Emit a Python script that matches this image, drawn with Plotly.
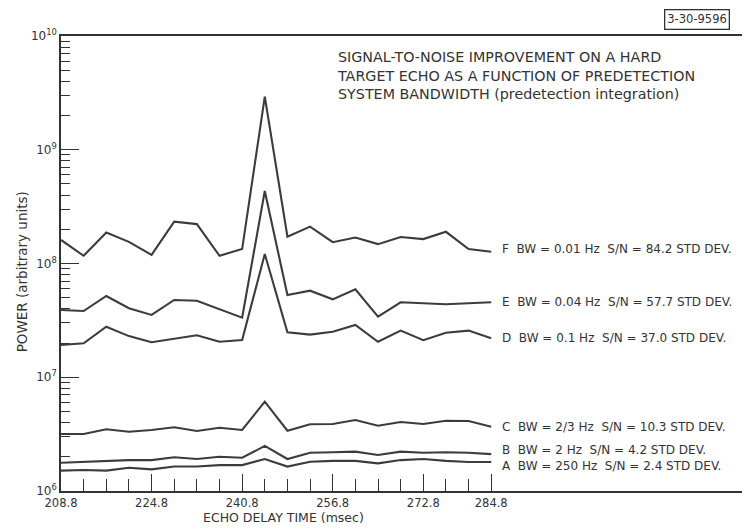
import math
import plotly.graph_objects as go

# ---- data ----
delay_ms = [208.8, 212.8, 216.8, 220.8, 224.8, 228.8, 232.8, 236.8, 240.8, 244.8,
            248.8, 252.8, 256.8, 260.8, 264.8, 268.8, 272.8, 276.8, 280.8, 284.8]

power_F = [1.61e8, 1.17e8, 1.87e8, 1.55e8, 1.19e8, 2.33e8, 2.22e8, 1.17e8, 1.34e8, 2.93e9,
           1.72e8, 2.11e8, 1.54e8, 1.69e8, 1.48e8, 1.71e8, 1.64e8, 1.90e8, 1.34e8, 1.27e8]
power_E = [3.90e7, 3.82e7, 5.18e7, 4.04e7, 3.53e7, 4.78e7, 4.71e7, 3.98e7, 3.34e7, 4.34e8,
           5.28e7, 5.77e7, 4.84e7, 5.93e7, 3.41e7, 4.56e7, 4.47e7, 4.38e7, 4.47e7, 4.56e7]
power_D = [1.92e7, 1.99e7, 2.78e7, 2.30e7, 2.03e7, 2.17e7, 2.34e7, 2.05e7, 2.12e7, 1.21e8,
           2.48e7, 2.37e7, 2.51e7, 2.88e7, 2.05e7, 2.57e7, 2.12e7, 2.46e7, 2.57e7, 2.20e7]
power_C = [3.17e6, 3.17e6, 3.49e6, 3.32e6, 3.44e6, 3.63e6, 3.37e6, 3.60e6, 3.44e6, 6.10e6,
           3.39e6, 3.86e6, 3.88e6, 4.21e6, 3.75e6, 4.04e6, 3.88e6, 4.15e6, 4.12e6, 3.67e6]
power_B = [1.77e6, 1.81e6, 1.84e6, 1.87e6, 1.87e6, 1.98e6, 1.91e6, 2.00e6, 1.96e6, 2.49e6,
           1.91e6, 2.17e6, 2.19e6, 2.22e6, 2.07e6, 2.22e6, 2.17e6, 2.19e6, 2.17e6, 2.11e6]
power_A = [1.51e6, 1.53e6, 1.51e6, 1.60e6, 1.55e6, 1.64e6, 1.64e6, 1.69e6, 1.69e6, 1.91e6,
           1.64e6, 1.81e6, 1.84e6, 1.84e6, 1.75e6, 1.87e6, 1.91e6, 1.84e6, 1.80e6, 1.80e6]

series_names = ["F", "E", "D", "C", "B", "A"]
series_values = [power_F, power_E, power_D, power_C, power_B, power_A]
series_labels = [
    "F  BW = 0.01 Hz  S/N = 84.2 STD DEV.",
    "E  BW = 0.04 Hz  S/N = 57.7 STD DEV.",
    "D  BW = 0.1 Hz  S/N = 37.0 STD DEV.",
    "C  BW = 2/3 Hz  S/N = 10.3 STD DEV.",
    "B  BW = 2 Hz  S/N = 4.2 STD DEV.",
    "A  BW = 250 Hz  S/N = 2.4 STD DEV.",
]
label_shift = [3, 0, 0, 0, 4, -4]

x_tick_vals = [208.8, 224.8, 240.8, 256.8, 272.8, 284.8]
x_tick_text = ["208.8", "224.8", "240.8", "256.8", "272.8", "284.8"]
x_minor_vals = [v for v in delay_ms if v not in x_tick_vals]

y_tick_vals = [1e6, 1e7, 1e8, 1e9, 1e10]
y_tick_text = ["10<sup>6</sup>", "10<sup>7</sup>", "10<sup>8</sup>", "10<sup>9</sup>", "10<sup>10</sup>"]
y_minor_vals = [k * 10 ** d for d in range(6, 10) for k in range(2, 10)]

title_text = ("SIGNAL-TO-NOISE IMPROVEMENT ON A HARD<br>"
              "TARGET ECHO AS A FUNCTION OF PREDETECTION<br>"
              "SYSTEM BANDWIDTH (predetection integration)")

INK = "#333333"
FONT = "DejaVu Sans, Liberation Sans, Arial, sans-serif"

fig = go.Figure()
for name, vals in zip(series_names, series_values):
    fig.add_trace(go.Scatter(x=delay_ms, y=vals, mode="lines", name=name,
                             line=dict(color="#3c3c3c", width=2.1)))

annotations = []
for vals, lab, sh in zip(series_values, series_labels, label_shift):
    annotations.append(dict(x=286.3, y=math.log10(vals[-1]), xref="x", yref="y", yshift=sh,
                            text=lab, showarrow=False, xanchor="left", yanchor="middle",
                            font=dict(size=12, color=INK, family=FONT)))

annotations.append(dict(x=0.402, y=0.914, xref="paper", yref="paper", text=title_text,
                        showarrow=False, xanchor="left", yanchor="middle", align="left",
                        font=dict(size=14.3, color=INK, family=FONT)))
annotations.append(dict(x=0.934, y=1.037, xref="paper", yref="paper", text="3-30-9596",
                        showarrow=False, xanchor="center", yanchor="middle",
                        bordercolor=INK, borderwidth=1.3, borderpad=2,
                        font=dict(size=11.5, color=INK, family=FONT)))
annotations.append(dict(x=0.326, y=-0.059, xref="paper", yref="paper",
                        text="ECHO DELAY TIME (msec)", showarrow=False,
                        xanchor="center", yanchor="middle",
                        font=dict(size=12.5, color=INK, family=FONT)))
annotations.append(dict(x=-0.057, y=0.481, xref="paper", yref="paper",
                        text="POWER (arbitrary units)", showarrow=False, textangle=-90,
                        xanchor="center", yanchor="middle",
                        font=dict(size=13.5, color=INK, family=FONT)))

fig.update_layout(
    width=745, height=529,
    margin=dict(l=61, r=3, t=36, b=38),
    paper_bgcolor="white", plot_bgcolor="white",
    showlegend=False,
    font=dict(family=FONT, color=INK),
    annotations=annotations,
    xaxis=dict(
        range=[208.8, 329.1], showgrid=False, zeroline=False, automargin=False,
        showline=True, linecolor=INK, linewidth=1.5, mirror=True,
        tickmode="array", tickvals=x_tick_vals, ticktext=x_tick_text,
        ticks="inside", ticklen=17, tickwidth=1.3, tickcolor=INK,
        tickfont=dict(size=11.5, color=INK, family=FONT),
        minor=dict(tickmode="array", tickvals=x_minor_vals, ticks="inside",
                   ticklen=12, tickwidth=1.3, tickcolor=INK, showgrid=False),
    ),
    yaxis=dict(
        type="log", range=[6, 10], showgrid=False, zeroline=False, automargin=False,
        showline=True, linecolor=INK, linewidth=1.5, mirror=False,
        tickmode="array", tickvals=y_tick_vals, ticktext=y_tick_text,
        ticks="inside", ticklen=18, tickwidth=1.3, tickcolor=INK,
        tickfont=dict(size=12, color=INK, family=FONT),
        minor=dict(tickmode="array", tickvals=y_minor_vals, ticks="inside",
                   ticklen=9, tickwidth=1.3, tickcolor=INK, showgrid=False),
    ),
)

fig.write_html("out.html", config={"displayModeBar": False},
               post_script="document.body.style.margin='0';")
